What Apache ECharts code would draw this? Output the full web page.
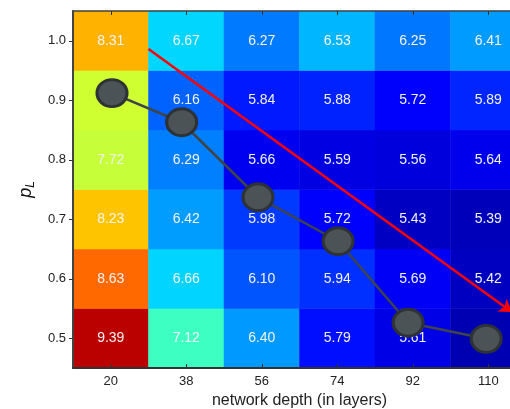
<!DOCTYPE html>
<html><head><meta charset="utf-8">
<script src="https://cdn.jsdelivr.net/npm/echarts@6/dist/echarts.min.js"></script>
<style>html,body{margin:0;padding:0;background:#fff}#c{width:510px;height:409px}</style>
</head><body><div id="c"></div>
<script>
var depths = ['20','38','56','74','92','110'];
var pLabels = ['0.5','0.6','0.7','0.8','0.9','1.0'];
// rows from p=0.5 (bottom) to p=1.0 (top); each row lists depths 20..110
var errRows = [
  [9.39, 7.12, 6.40, 5.79, 5.61, 5.35],
  [8.63, 6.66, 6.10, 5.94, 5.69, 5.42],
  [8.23, 6.42, 5.98, 5.72, 5.43, 5.39],
  [7.72, 6.29, 5.66, 5.59, 5.56, 5.64],
  [7.76, 6.16, 5.84, 5.88, 5.72, 5.89],
  [8.31, 6.67, 6.27, 6.53, 6.25, 6.41]
];
// optimal path markers (depth, p_L)
var pathDepth = [20.3, 36.9, 55.1, 74.2, 90.9, 109.5];
var pathP = [0.912, 0.863, 0.737, 0.663, 0.526, 0.499];
// red arrow (depth, p_L)
var arrowDepth = [29, 115.6];
var arrowP = [0.986, 0.544];

var heatData = [];
for (var r = 0; r < errRows.length; r++)
  for (var c = 0; c < errRows[r].length; c++)
    heatData.push([c, r, errRows[r][c]]);
var pathData = pathDepth.map(function(d, i){ return [d, pathP[i]]; });

var chart = echarts.init(document.getElementById('c'));
var font = 'Liberation Sans, Arial, sans-serif';
chart.setOption({
  animation: false,
  textStyle: {fontFamily: font},
  grid: {left: 73, top: 11, width: 453, height: 357, outerBoundsMode: 'none', containLabel: false},
  visualMap: {show: false, min: 5.17, max: 9.65, dimension: 2, seriesIndex: 0,
    inRange: {color: ['#00008F','#0000FF','#0080FF','#00FFFF','#80FF80','#FFFF00','#FF8000','#FF0000','#800000']}},
  xAxis: [
    {type: 'category', data: depths, position: 'bottom', z: 10,
     axisLine: {lineStyle: {color: '#333', width: 2}},
     axisTick: {show: true, inside: true, alignWithLabel: true, length: 4, lineStyle: {color: '#333'}},
     axisLabel: {color: '#222', fontSize: 13, margin: 7},
     splitLine: {show: false},
     name: 'network depth (in layers)', nameLocation: 'middle', nameGap: 25,
     nameTextStyle: {color: '#222', fontSize: 16}},
    {type: 'value', min: 11, max: 119, show: false},
    {type: 'category', data: depths, position: 'top', z: 10,
     axisLine: {show: true, lineStyle: {color: '#444', width: 1.5}},
     axisTick: {show: true, inside: true, alignWithLabel: true, length: 4, lineStyle: {color: '#333'}},
     axisLabel: {show: false}}
  ],
  yAxis: [
    {type: 'category', data: pLabels, z: 10,
     axisLine: {lineStyle: {color: '#444', width: 2}},
     axisTick: {show: true, inside: false, alignWithLabel: true, length: 4, lineStyle: {color: '#333'}},
     axisLabel: {color: '#222', fontSize: 13, margin: 7},
     name: '{a|p}{b|L}', nameLocation: 'middle', nameGap: 36, nameRotate: 90,
     nameTextStyle: {rich: {
       a: {fontSize: 18, fontStyle: 'italic', color: '#111', fontFamily: font},
       b: {fontSize: 12, fontStyle: 'italic', color: '#111', fontFamily: font, padding: [10, 0, 0, 0]}
     }}},
    {type: 'value', min: 0.45, max: 1.05, show: false}
  ],
  series: [
    {type: 'heatmap', data: heatData, xAxisIndex: 0, yAxisIndex: 0,
     label: {show: true, color: '#f2f2f2', fontSize: 14, fontFamily: font,
       formatter: function(p){ return p.value[2].toFixed(2); }},
     emphasis: {disabled: true}},
    {type: 'lines', coordinateSystem: 'cartesian2d', xAxisIndex: 1, yAxisIndex: 1, z: 4,
     symbol: ['none', 'arrow'], symbolSize: 12,
     lineStyle: {color: '#ff0000', width: 2.5, opacity: 1},
     data: [{coords: [[arrowDepth[0], arrowP[0]], [arrowDepth[1], arrowP[1]]]}]},
    {type: 'line', xAxisIndex: 1, yAxisIndex: 1, data: pathData, z: 5,
     symbol: 'circle', symbolSize: [30, 27],
     lineStyle: {color: '#3e4447', width: 2.5},
     itemStyle: {color: '#4b5357', borderColor: '#2e3235', borderWidth: 3}}
  ]
});
</script></body></html>
